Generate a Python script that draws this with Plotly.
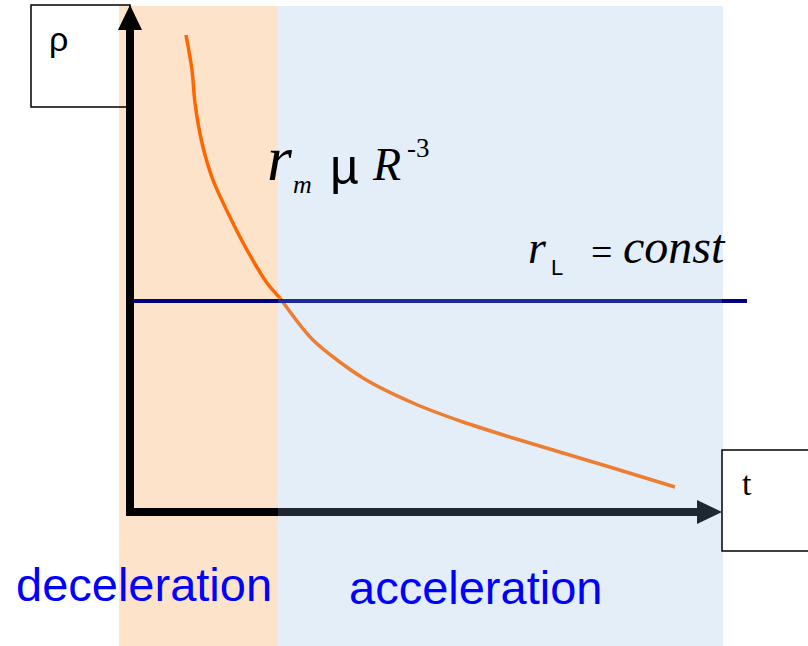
import plotly.graph_objects as go

# ---- data (t, rho in arbitrary diagram units; origin at the axes corner) ----
curve_t = [56, 62, 65, 72, 83, 98, 117, 137, 150, 183, 233, 283, 333, 383, 433, 483, 545]
curve_rho = [477, 442, 409, 369, 332, 299, 262, 229, 214, 172, 134, 109, 90, 74, 59, 44, 25]
lambda_t = [0, 148, 592, 617]
lambda_rho = [211, 211, 211, 211]
t_boundary = 148          # deceleration / acceleration transition
region_labels = ["deceleration", "acceleration"]
axis_labels = ["ρ", "t"]

W, H = 808, 646
OX, OY = 130, 512  # pixel location of the diagram origin


def P(x):
    return x / W


def Q(y):
    return 1 - y / H


fig = go.Figure()

# orange curve: two colour segments (under/over the blue band)
segA_t = [t for t in curve_t if t <= 150]
segA_r = [r for t, r in zip(curve_t, curve_rho) if t <= 150]
segB_t = [t for t in curve_t if t >= 150]
segB_r = [r for t, r in zip(curve_t, curve_rho) if t >= 150]
fig.add_trace(go.Scatter(x=segA_t, y=segA_r, mode="lines",
                         line=dict(color="#FF6600", width=3.5, shape="spline", smoothing=0.8),
                         hoverinfo="skip", showlegend=False))
fig.add_trace(go.Scatter(x=segB_t, y=segB_r, mode="lines",
                         line=dict(color="#ED7D31", width=3.5, shape="spline", smoothing=0.8),
                         hoverinfo="skip", showlegend=False))

# constant (Lambda) line
lam_colors = ["#000080", "#1F2A99", "#000080"]
for i in range(3):
    fig.add_trace(go.Scatter(x=lambda_t[i:i + 2], y=lambda_rho[i:i + 2], mode="lines",
                             line=dict(color=lam_colors[i], width=4),
                             hoverinfo="skip", showlegend=False))

shapes = []
# background bands
shapes.append(dict(type="rect", xref="paper", yref="paper", x0=P(119), x1=P(278), y0=Q(646), y1=Q(6),
                   fillcolor="#FEE3CB", line=dict(width=0), layer="below"))
shapes.append(dict(type="rect", xref="paper", yref="paper", x0=P(278), x1=P(723), y0=Q(646), y1=Q(6),
                   fillcolor="#E4EEF9", line=dict(width=0), layer="below"))

# vertical axis with arrow head
shapes.append(dict(type="line", xref="paper", yref="paper", x0=P(OX), x1=P(OX), y0=Q(OY + 4), y1=Q(27),
                   line=dict(color="black", width=8), layer="above"))
shapes.append(dict(type="path", xref="paper", yref="paper",
                   path=f"M {P(130)} {Q(5)} L {P(118)} {Q(30)} L {P(142)} {Q(30)} Z",
                   fillcolor="black", line=dict(width=0), layer="above"))
# horizontal axis with arrow head
shapes.append(dict(type="line", xref="paper", yref="paper", x0=P(127), x1=P(278), y0=Q(OY), y1=Q(OY),
                   line=dict(color="black", width=8), layer="above"))
shapes.append(dict(type="line", xref="paper", yref="paper", x0=P(278), x1=P(700), y0=Q(OY), y1=Q(OY),
                   line=dict(color="#1F2733", width=8), layer="above"))
shapes.append(dict(type="path", xref="paper", yref="paper",
                   path=f"M {P(722)} {Q(512)} L {P(697)} {Q(500)} L {P(697)} {Q(524)} Z",
                   fillcolor="#1F2733", line=dict(width=0), layer="above"))

# label boxes
shapes.append(dict(type="rect", xref="paper", yref="paper", x0=P(31), x1=P(130), y0=Q(107), y1=Q(5),
                   fillcolor="rgba(0,0,0,0)", line=dict(color="black", width=1.5), layer="below"))
shapes.append(dict(type="rect", xref="paper", yref="paper", x0=P(722), x1=P(812), y0=Q(551), y1=Q(450),
                   fillcolor="white", line=dict(color="black", width=1.5), layer="above"))

SERIF = "Liberation Serif, Times New Roman, serif"
SANS = "Liberation Sans, Arial, sans-serif"


def txt(s, x, baseline, size, family, color="black", xanchor="center", italic=False, k=0.34):
    y = baseline - k * size
    return dict(text=s, xref="paper", yref="paper", x=P(x), y=Q(y), xanchor=xanchor, yanchor="middle",
                showarrow=False, font=dict(family=family, size=size, color=color,
                                           style="italic" if italic else "normal"))


annotations = [
    txt(axis_labels[0], 59, 51, 34, SANS),
    txt(axis_labels[1], 747, 495, 34, SERIF),
    # rho_m ∝ R^-3 (as rendered in the original)
    txt("r", 280, 180, 64, SERIF, italic=True),
    txt("m", 302, 193, 26, SERIF, italic=True),
    txt("µ", 344, 184, 50, SANS),
    txt("R", 386, 180, 46, SERIF, italic=True),
    txt("-3", 418, 157, 27, SERIF),
    # rho_Lambda = const
    txt("r", 537, 263, 46, SERIF, italic=True),
    txt("L", 557, 275, 22, SANS),
    txt("=", 601, 265, 38, SERIF),
    txt("const", 621, 263, 48, SERIF, xanchor="left", italic=True),
    # regions
    txt(region_labels[0], 144, 600, 47, SANS, color="#0000FF"),
    txt(region_labels[1], 475, 603, 47, SANS, color="#0000FF"),
]

fig.update_layout(
    width=W, height=H,
    margin=dict(l=0, r=0, t=0, b=0),
    paper_bgcolor="white", plot_bgcolor="rgba(0,0,0,0)",
    xaxis=dict(range=[-OX, W - OX], visible=False, fixedrange=True),
    yaxis=dict(range=[OY - H, OY], visible=False, fixedrange=True),
    shapes=shapes, annotations=annotations,
)

fig.write_html("out.html", config={"displayModeBar": False},
               post_script="document.body.style.margin='0';document.body.style.overflow='hidden';")
